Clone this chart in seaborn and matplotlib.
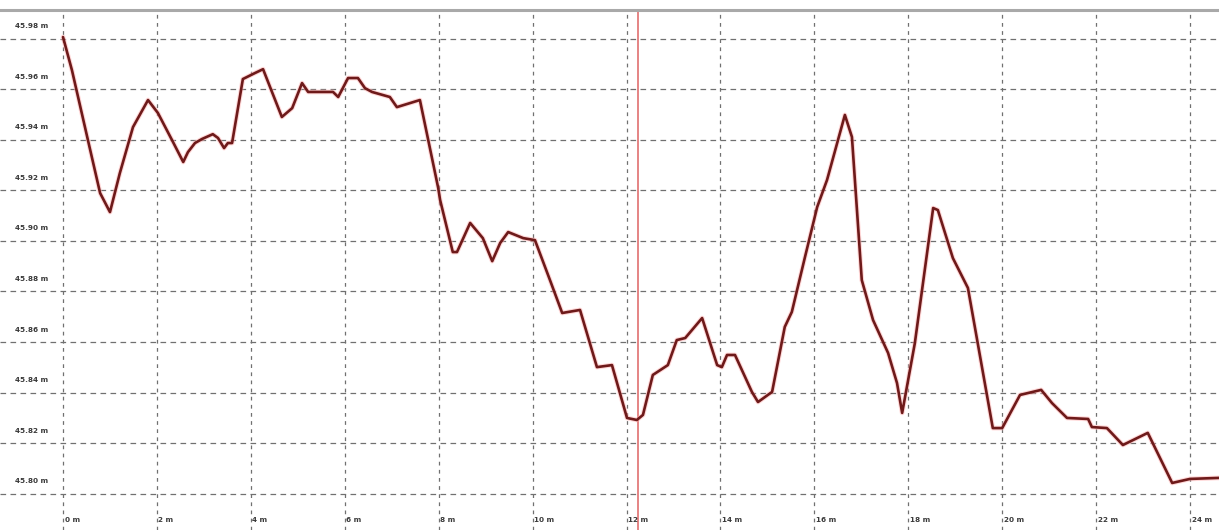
import matplotlib
matplotlib.use("Agg")
import matplotlib.pyplot as plt
import matplotlib.transforms as mtransforms
import seaborn as sns
import pandas as pd

# distance along profile (m) and elevation (m)
distance = [0.00, 0.19, 0.53, 0.79, 1.00, 1.21, 1.49, 1.81, 2.02, 2.32, 2.56, 2.66,
            2.81, 2.96, 3.19, 3.30, 3.43, 3.51, 3.60, 3.83, 4.09, 4.26, 4.45, 4.66,
            4.88, 5.09, 5.22, 5.75, 5.86, 6.07, 6.28, 6.43, 6.58, 6.96, 7.11, 7.60,
            7.99, 8.03, 8.30, 8.39, 8.67, 8.94, 9.14, 9.31, 9.48, 9.80, 10.05, 10.37,
            10.63, 11.01, 11.37, 11.69, 12.01, 12.22, 12.35, 12.56, 12.88, 13.07, 13.25,
            13.61, 13.93, 14.03, 14.14, 14.31, 14.67, 14.80, 15.10, 15.37, 15.52, 15.80,
            16.06, 16.27, 16.65, 16.80, 17.01, 17.25, 17.57, 17.76, 17.87, 18.14, 18.53,
            18.63, 18.95, 19.27, 19.80, 20.00, 20.38, 20.83, 21.06, 21.38, 21.83, 21.91,
            22.23, 22.57, 23.10, 23.62, 24.00, 24.62]
elevation = [45.9806, 45.9675, 45.9399, 45.9189, 45.9114, 45.9268, 45.9450, 45.9557,
             45.9506, 45.9399, 45.9312, 45.9351, 45.9387, 45.9403, 45.9422, 45.9407,
             45.9367, 45.9387, 45.9387, 45.9640, 45.9664, 45.9679, 45.9589, 45.9490,
             45.9525, 45.9624, 45.9589, 45.9589, 45.9569, 45.9644, 45.9644, 45.9604,
             45.9589, 45.9569, 45.9529, 45.9557, 45.9209, 45.9162, 45.8956, 45.8956,
             45.9071, 45.9011, 45.8920, 45.8992, 45.9035, 45.9011, 45.9003, 45.8845,
             45.8715, 45.8727, 45.8501, 45.8509, 45.8300, 45.8292, 45.8312, 45.8470,
             45.8509, 45.8608, 45.8616, 45.8695, 45.8509, 45.8501, 45.8549, 45.8549,
             45.8403, 45.8363, 45.8403, 45.8660, 45.8719, 45.8936, 45.9134, 45.9241,
             45.9498, 45.9411, 45.8845, 45.8687, 45.8557, 45.8438, 45.8320, 45.8596,
             45.9130, 45.9122, 45.8932, 45.8814, 45.8260, 45.8260, 45.8391, 45.8411,
             45.8359, 45.8300, 45.8296, 45.8264, 45.8260, 45.8193, 45.8241, 45.8043,
             45.8059, 45.8063]

x_ticks = [0, 2, 4, 6, 8, 10, 12, 14, 16, 18, 20, 22, 24]
x_tick_labels = ["0 m", "2 m", "4 m", "6 m", "8 m", "10 m", "12 m", "14 m",
                 "16 m", "18 m", "20 m", "22 m", "24 m"]
y_ticks = [45.98, 45.96, 45.94, 45.92, 45.90, 45.88, 45.86, 45.84, 45.82, 45.80]
y_tick_labels = ["45.98 m", "45.96 m", "45.94 m", "45.92 m", "45.90 m", "45.88 m",
                 "45.86 m", "45.84 m", "45.82 m", "45.80 m"]
cursor_position = [12.24]

sns.set_style("white")
plt.rcParams["font.family"] = ["DejaVu Sans"]

fig = plt.figure(figsize=(12.19, 5.30), dpi=100)
ax = fig.add_axes([0, 0, 1, 520 / 530])

ax.set_xlim(-1.342, 24.617)
ax.set_ylim(45.7857, 45.9913)

ax.set_xticks(x_ticks)
ax.set_yticks(y_ticks)
ax.tick_params(length=0, labelleft=False, labelbottom=False)
ax.grid(True, axis="y", color="#707070", linestyle=(0, (4.5, 3.5)), linewidth=0.9)
ax.grid(True, axis="x", color="#707070", linestyle=(0, (3, 3.5)), linewidth=0.9)
ax.set_axisbelow(True)

for s in ["left", "right", "bottom"]:
    ax.spines[s].set_visible(False)
ax.spines["top"].set_color("#a9a9a9")
ax.spines["top"].set_linewidth(2.2)

for c in cursor_position:
    ax.axvline(c, color="#e07070", linewidth=1.2, zorder=2)

df = pd.DataFrame({"distance": distance, "elevation": elevation})
sns.lineplot(data=df, x="distance", y="elevation", ax=ax, sort=False,
             color="#ffb0b0", linewidth=3.4, zorder=3, alpha=0.5)
sns.lineplot(data=df, x="distance", y="elevation", ax=ax, sort=False,
             color="#6e1a1a", linewidth=1.9, zorder=4)
ax.set_xlabel("")
ax.set_ylabel("")

# y labels: above each horizontal gridline, inside the plot
ytrans = mtransforms.offset_copy(ax.get_yaxis_transform(), fig=fig, x=0, y=12.5, units="dots")
for v, lab in zip(y_ticks, y_tick_labels):
    ax.text(15 / 1219, v, lab, transform=ytrans, fontsize=5.2, fontweight="bold",
            color="#3a3a3a", ha="left", va="center")

# x labels: at the bottom, just right of each vertical gridline
xtrans = mtransforms.offset_copy(ax.get_xaxis_transform(), fig=fig, x=1.5, y=10, units="dots")
for m, lab in zip(x_ticks, x_tick_labels):
    ax.text(m, 0, lab, transform=xtrans, fontsize=5.2, fontweight="bold",
            color="#3a3a3a", ha="left", va="center")

fig.savefig("out.png", dpi=100, facecolor="white")
